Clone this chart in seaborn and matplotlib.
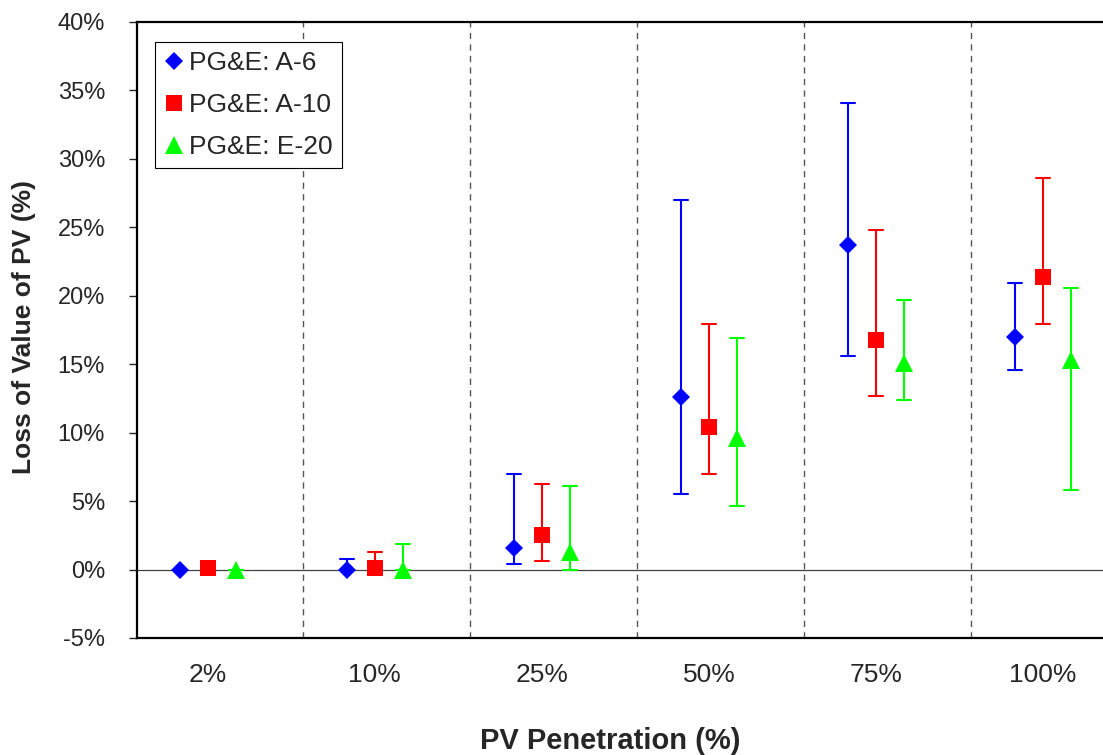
import pandas as pd
import matplotlib
matplotlib.use('Agg')
import matplotlib.pyplot as plt
from matplotlib.lines import Line2D
import seaborn as sns

penetration = ['2%', '10%', '25%', '50%', '75%', '100%']
tariffs = ['PG&E: A-6', 'PG&E: A-10', 'PG&E: E-20']
colors = ['#0000FF', '#FF0000', '#00FF00']
markers = ['D', 's', '^']

# loss of value of PV (%): central estimate and low/high range per penetration level
a6_mid = [0.0, 0.0, 1.6, 12.6, 23.7, 17.0]
a6_low = [0.0, 0.0, 0.4, 5.5, 15.6, 14.6]
a6_high = [0.0, 0.75, 7.0, 27.0, 34.1, 20.9]

a10_mid = [0.1, 0.1, 2.5, 10.4, 16.8, 21.4]
a10_low = [0.1, 0.1, 0.6, 7.0, 12.7, 17.9]
a10_high = [0.1, 1.3, 6.25, 17.9, 24.8, 28.6]

e20_mid = [0.0, 0.0, 1.3, 9.6, 15.1, 15.3]
e20_low = [0.0, 0.0, -0.05, 4.65, 12.4, 5.8]
e20_high = [0.0, 1.85, 6.1, 16.9, 19.7, 20.6]


def build_frame():
    series = [
        (tariffs[0], a6_low, a6_mid, a6_high),
        (tariffs[1], a10_low, a10_mid, a10_high),
        (tariffs[2], e20_low, e20_mid, e20_high),
    ]
    rows = []
    for name, low, mid, high in series:
        for pen, lo, mi, hi in zip(penetration, low, mid, high):
            for v in (lo, mi, hi):
                rows.append({'Penetration': pen, 'Tariff': name, 'Loss': v})
    return pd.DataFrame(rows)


def plot_loss_of_value():
    df = build_frame()

    sns.set_style('white')
    plt.rcParams['font.family'] = ['Liberation Sans', 'DejaVu Sans']

    fig = plt.figure(figsize=(11.03, 7.55), dpi=100)
    ax = fig.add_axes([0.1242, 0.1550, 0.8758, 0.8159])

    # median of (low, mid, high) is the central value, min/max give the range
    sns.pointplot(data=df, x='Penetration', y='Loss', hue='Tariff',
                  order=penetration, hue_order=tariffs,
                  estimator='median', errorbar=lambda v: (v.min(), v.max()),
                  dodge=0.336, markers=markers, linestyle='none',
                  palette=colors, capsize=0.085,
                  err_kws={'linewidth': 1.5}, legend=False, ax=ax)

    sizes = {'D': 9.6, 's': 12.2, '^': 13.2}
    for line in ax.lines:
        m = line.get_marker()
        if m in sizes:
            line.set_markersize(sizes[m])
            line.set_markeredgewidth(0)

    # separators between penetration groups and zero line
    for i in range(len(penetration) - 1):
        ax.axvline(i + 0.57, color='#555555', linewidth=1.0,
                   linestyle=(0, (4.5, 3.8)), zorder=0)
    ax.axhline(0, color='#404040', linewidth=0.9, zorder=0)

    ax.set_xlim(-0.424, 5.36)
    ax.set_ylim(-5, 40)
    yt = list(range(-5, 41, 5))
    ax.set_yticks(yt)
    ax.set_yticklabels([f'{v}%' for v in yt])

    for side in ['left', 'top', 'bottom']:
        ax.spines[side].set_color('black')
        ax.spines[side].set_linewidth(1.6)
    ax.spines['right'].set_visible(False)

    ax.tick_params(axis='y', left=True, direction='out', length=6, width=1,
                   labelsize=17, pad=17)
    ax.tick_params(axis='x', length=0, labelsize=19, pad=18)

    ax.set_xlabel('PV Penetration (%)', fontsize=21, fontweight='bold')
    ax.set_ylabel('Loss of Value of PV (%)', fontsize=19, fontweight='bold')
    ax.xaxis.set_label_coords(0.4897, -0.145)
    ax.yaxis.set_label_coords(-0.105, 0.505)

    handles = [Line2D([], [], marker=m, color=c, linestyle='none',
                      markersize=sizes[m], markeredgewidth=0)
               for m, c in zip(markers, colors)]
    leg = ax.legend(handles, tariffs, loc='upper left',
                    bbox_to_anchor=(0.0186, 0.9675), borderaxespad=0,
                    fontsize=19, frameon=True, fancybox=False, framealpha=1,
                    edgecolor='black', handlelength=0.75, handletextpad=0.2,
                    borderpad=0.35, labelspacing=0.68)
    leg.get_frame().set_linewidth(0.8)

    fig.savefig('out.png', dpi=100)
    plt.close(fig)


if __name__ == "__main__":
    plot_loss_of_value()
